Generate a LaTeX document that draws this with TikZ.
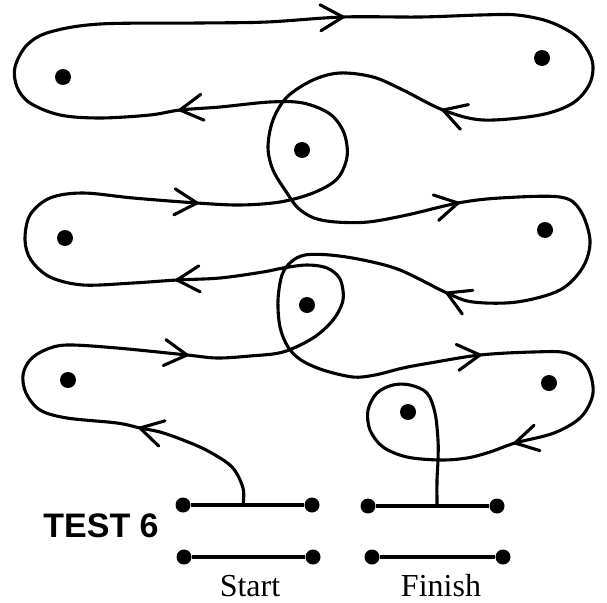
\documentclass[tikz,border=0pt]{standalone}
\usepackage{fontspec}
\setmainfont{Liberation Serif}
\newfontfamily\hvfont{Liberation Sans}
\tikzset{
  curve/.style={line width=3.1pt, line cap=round, line join=round},
  barline/.style={line width=3.8pt},
  pathdot/.style={circle, fill=black, inner sep=0pt, minimum size=16pt},
  bardot/.style={circle, fill=black, inner sep=0pt, minimum size=15pt},
  lbl/.style={inner sep=0pt, anchor=base},
}
\newcommand\arrowhd[2]{\draw[curve] (#1) ++(#2+150:26) -- (#1) -- ++(#2-150:26);}
\begin{document}
\begin{tikzpicture}[x=1pt, y=-1pt]
\useasboundingbox (0,0) rectangle (607,602);
% dots
\node[pathdot] (d1) at (63,77) {};
\node[pathdot] (d2) at (542,58) {};
\node[pathdot] (d3) at (302,150) {};
\node[pathdot] (d4) at (65,238) {};
\node[pathdot] (d5) at (545,230) {};
\node[pathdot] (d6) at (307,305) {};
\node[pathdot] (d7) at (68,380) {};
\node[pathdot] (d8) at (549,383) {};
\node[pathdot] (d9) at (408,412) {};
% bars
\node[bardot] (s1a) at (183,505) {};
\node[bardot] (s1b) at (312,505) {};
\node[bardot] (s2a) at (184,557) {};
\node[bardot] (s2b) at (313,557) {};
\node[bardot] (f1a) at (368,506) {};
\node[bardot] (f1b) at (497,506) {};
\node[bardot] (f2a) at (372,557) {};
\node[bardot] (f2b) at (503,557) {};
\draw[barline] (s1a) -- (s1b);
\draw[barline] (s2a) -- (s2b);
\draw[barline] (f1a) -- (f1b);
\draw[barline] (f2a) -- (f2b);
\coordinate (startpt) at (243,505);
\coordinate (finishpt) at (437,505);
% the maze path
\draw[curve] plot[smooth, tension=0.55] coordinates {
 (243,505) (243,488) (232,467) (208,451) (183,440) (160,432) (140,428)
 (117,423) (67,418) (40,410) (26,393) (23,375) (30,360) (45,350) (67,345)
 (117,348) (187,355) (217,358) (250,356) (283,352) (313,338) (333,320)
 (343,300) (340,279) (327,268) (307,265) (283,268) (263,272) (220,278)
 (177,280) (133,283) (83,285) (50,277) (31,260) (25,240) (30,215) (50,198)
 (83,193) (133,198) (197,203) (240,205) (280,202) (313,193) (337,179)
 (347,157) (344,133) (330,114) (303,103) (270,102) (220,107) (180,110)
 (150,115) (100,118) (60,115) (30,103) (17,87) (15,67) (27,45) (50,32)
 (100,24) (200,23) (267,22) (343,17) (420,17) (480,15) (517,15) (550,22)
 (577,37) (592,60) (590,83) (573,103) (540,115) (483,120) (443,110)
 (403,90) (373,77) (340,73) (313,80) (287,97) (273,120) (268,147) (273,170)
 (287,193) (298,208) (314,218) (336,222) (368,222) (407,215) (458,203)
 (500,198) (560,197) (580,210) (590,240) (583,267) (560,290) (517,302)
 (473,302) (447,293) (400,270) (363,260) (330,255) (305,255) (291,262)
 (282,275) (278,300) (280,327) (288,347) (301,360) (323,370) (353,377)
 (375,375) (403,368) (430,363) (480,355) (533,352) (567,353) (587,367)
 (593,393) (581,417) (554,433) (515,443) (490,452) (467,458) (440,460)
 (407,457) (383,447) (370,430) (368,410) (377,393) (393,385) (410,385)
 (427,393) (435,413) (438,440) (438,460) (437,480) (437,505)};
% arrowheads
\arrowhd{343,17}{-2}
\arrowhd{443,110}{198}
\arrowhd{180,110}{173}
\arrowhd{197,203}{3}
\arrowhd{458,203}{-12}
\arrowhd{447,293}{204}
\arrowhd{177,280}{177}
\arrowhd{187,355}{6}
\arrowhd{480,355}{-6}
\arrowhd{515,443}{167}
\arrowhd{140,428}{194}
% labels
\node[lbl] (test) at (101,537) {\hvfont\bfseries\fontsize{34}{34}\selectfont TEST 6};
\node[lbl] (start) at (250,596) {\fontsize{32}{32}\selectfont Start};
\node[lbl] (finish) at (441,596) {\fontsize{32}{32}\selectfont Finish};
\end{tikzpicture}
\end{document}
